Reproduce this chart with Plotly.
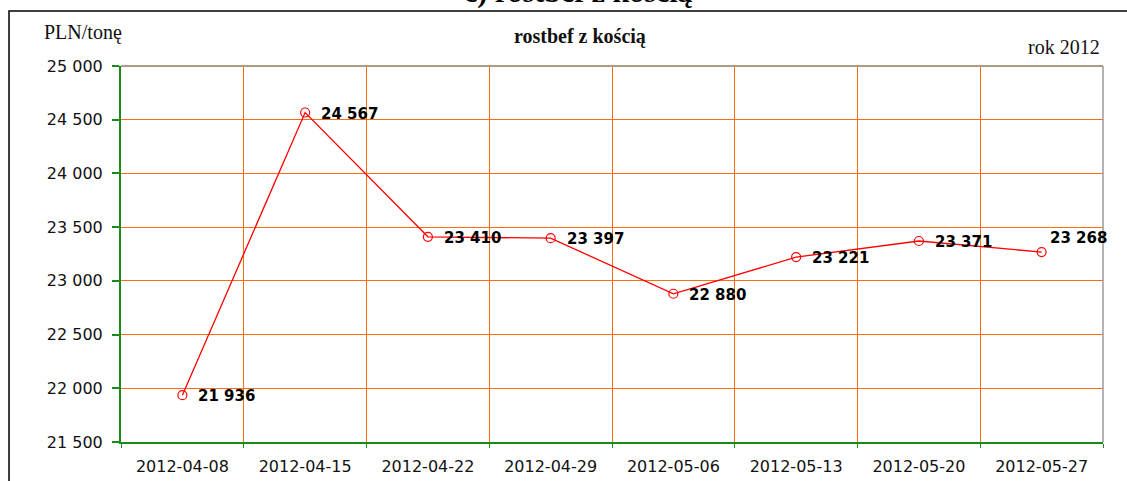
import plotly.graph_objects as go

# Weekly prices of rostbef z kością, 2012
weeks = ["2012-04-08", "2012-04-15", "2012-04-22", "2012-04-29",
         "2012-05-06", "2012-05-13", "2012-05-20", "2012-05-27"]
prices = [21936, 24567, 23410, 23397, 22880, 23221, 23371, 23268]
y_ticks = [21500, 22000, 22500, 23000, 23500, 24000, 24500, 25000]

W, H = 1127, 481
L, R, T, B = 121, 24, 66, 39
plot_w, plot_h = W - L - R, H - T - B


def px_x(px):
    return (px - L) / plot_w


def px_y(py):
    return (H - B - py) / plot_h


def fmt(v):
    return f"{v:,}".replace(",", " ")


GRID = "#ff6d10"
AXIS = "#1a8a1a"
TICK_FONT = dict(family="DejaVu Sans", size=16, color="#111111")
SERIF = "Liberation Serif"

fig = go.Figure()
fig.add_trace(go.Scatter(
    x=weeks, y=prices, mode="lines+markers",
    line=dict(color="#ff0000", width=1.3),
    marker=dict(symbol="circle-open", size=9, color="#ff0000",
                line=dict(width=1.2, color="#ff0000")),
    hoverinfo="skip", showlegend=False, cliponaxis=False,
))

annotations = []
for i, (wk, v) in enumerate(zip(weeks, prices)):
    last = i == len(prices) - 1
    annotations.append(dict(
        x=wk, y=v, xref="x", yref="y", text=f"<b>{fmt(v)}</b>",
        showarrow=False, xanchor="left", yanchor="middle",
        xshift=6 if last else 14, yshift=14 if last else -1,
        font=dict(family="DejaVu Sans", size=15, color="#000000"),
    ))

annotations += [
    dict(x=px_x(83), y=px_y(33), xref="paper", yref="paper",
         text="PLN/tonę", showarrow=False, xanchor="center", yanchor="middle",
         font=dict(family=SERIF, size=20, color="#111111")),
    dict(x=px_x(580), y=px_y(36), xref="paper", yref="paper",
         text="<b>rostbef z kością</b>", showarrow=False,
         xanchor="center", yanchor="middle",
         font=dict(family=SERIF, size=20, color="#111111")),
    dict(x=px_x(1102), y=px_y(47), xref="paper", yref="paper",
         text="rok 2012", showarrow=False, xanchor="right", yanchor="middle",
         font=dict(family=SERIF, size=20, color="#111111")),
    # section heading above the frame, mostly outside the page
    dict(x=px_x(578), y=px_y(-7.5), xref="paper", yref="paper",
         text="<b>c) rostbef z kością</b>", showarrow=False,
         xanchor="center", yanchor="middle",
         font=dict(family=SERIF, size=30, color="#000000")),
]

shapes = [
    # outer frame
    dict(type="rect", xref="paper", yref="paper",
         x0=px_x(9), x1=px_x(1140), y0=px_y(11), y1=px_y(500),
         line=dict(color="#000000", width=1.5), layer="above"),
    # plot area top and right edges
    dict(type="line", xref="paper", yref="paper", x0=0, x1=1, y0=1, y1=1,
         line=dict(color="#b09a86", width=2), layer="above"),
    dict(type="line", xref="paper", yref="paper", x0=1, x1=1, y0=0, y1=1,
         line=dict(color="#9a9a9a", width=1.5), layer="above"),
]

fig.update_layout(
    width=W, height=H,
    margin=dict(l=L, r=R, t=T, b=B, pad=0, autoexpand=False),
    paper_bgcolor="white", plot_bgcolor="white",
    separators=", ",
    annotations=annotations, shapes=shapes,
    xaxis=dict(
        type="category", categoryorder="array", categoryarray=weeks,
        range=[-0.5, len(weeks) - 0.5], automargin=False,
        tickson="boundaries", showgrid=True, gridcolor=GRID, gridwidth=1,
        showline=True, linecolor=AXIS, linewidth=2,
        ticks="outside", ticklen=4, tickcolor=AXIS, tickwidth=1,
        tickfont=TICK_FONT, ticklabelstandoff=9, zeroline=False,
    ),
    yaxis=dict(
        range=[y_ticks[0], y_ticks[-1]], tickvals=y_ticks, automargin=False,
        tickformat=",d", showgrid=True, gridcolor=GRID, gridwidth=1,
        showline=True, linecolor=AXIS, linewidth=2,
        ticks="outside", ticklen=7, tickcolor=AXIS, tickwidth=1.5,
        tickfont=TICK_FONT, ticklabelstandoff=6, zeroline=False,
    ),
)

fig.write_html("out.html")
